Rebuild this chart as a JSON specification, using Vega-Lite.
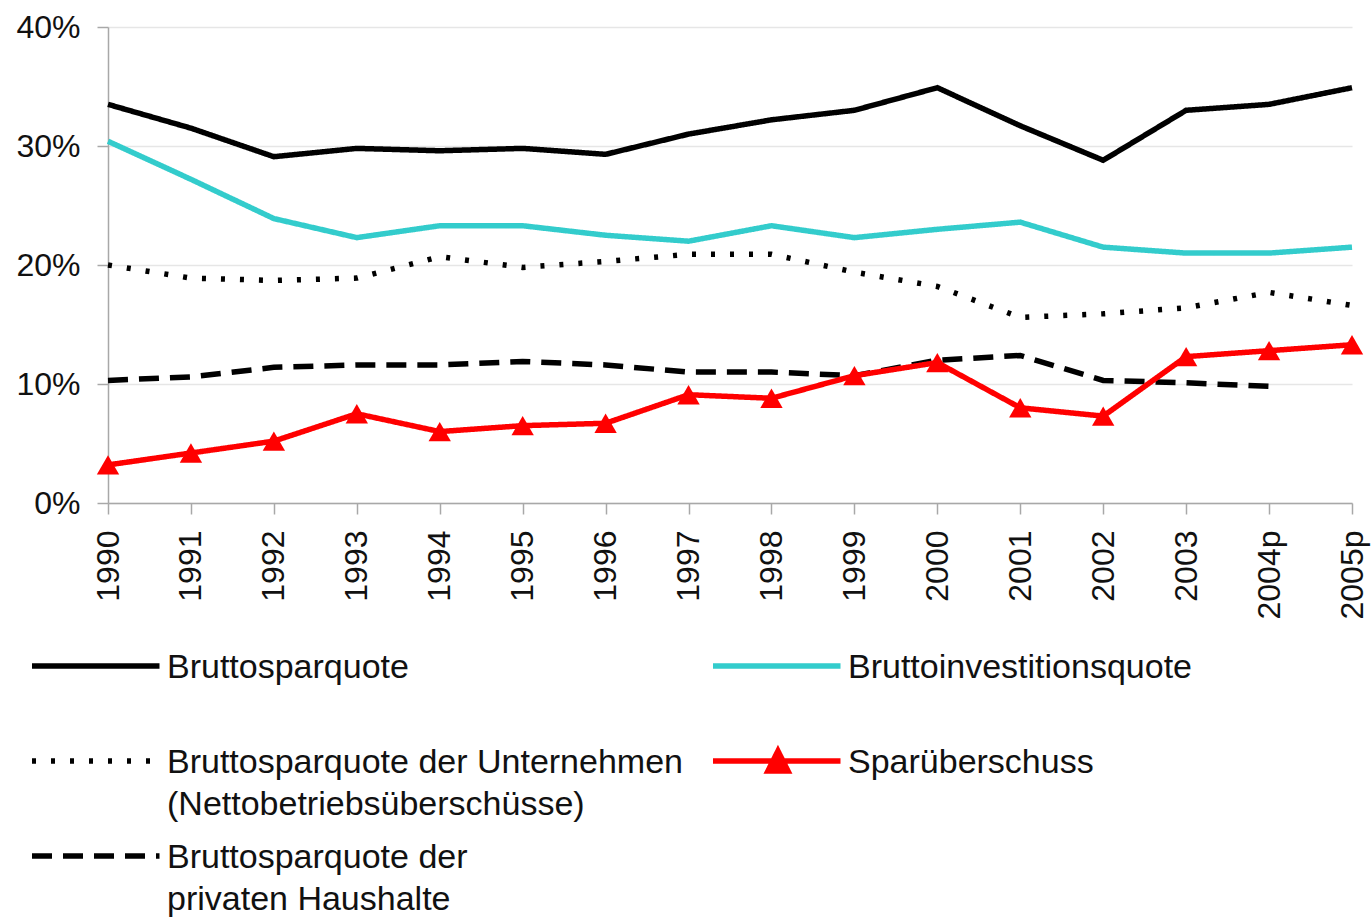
{
  "$schema": "https://vega.github.io/schema/vega-lite/v6.json",
  "width": 1244,
  "height": 476,
  "autosize": {"type": "none"},
  "padding": {"left": 108, "top": 27, "right": 19, "bottom": 415},
  "background": "white",
  "config": {
    "view": {"stroke": null},
    "font": "Liberation Sans",
    "axis": {"labelFont": "Liberation Sans", "labelColor": "#111111", "domainColor": "#a8a8a8", "tickColor": "#a8a8a8", "domainWidth": 1.5, "tickWidth": 1.5}
  },
  "data": {
    "values": [
      {"year": "1990", "series": "Bruttosparquote", "value": 33.5},
      {"year": "1991", "series": "Bruttosparquote", "value": 31.5},
      {"year": "1992", "series": "Bruttosparquote", "value": 29.1},
      {"year": "1993", "series": "Bruttosparquote", "value": 29.8},
      {"year": "1994", "series": "Bruttosparquote", "value": 29.6},
      {"year": "1995", "series": "Bruttosparquote", "value": 29.8},
      {"year": "1996", "series": "Bruttosparquote", "value": 29.3},
      {"year": "1997", "series": "Bruttosparquote", "value": 31.0},
      {"year": "1998", "series": "Bruttosparquote", "value": 32.2},
      {"year": "1999", "series": "Bruttosparquote", "value": 33.0},
      {"year": "2000", "series": "Bruttosparquote", "value": 34.9},
      {"year": "2001", "series": "Bruttosparquote", "value": 31.7},
      {"year": "2002", "series": "Bruttosparquote", "value": 28.8},
      {"year": "2003", "series": "Bruttosparquote", "value": 33.0},
      {"year": "2004p", "series": "Bruttosparquote", "value": 33.5},
      {"year": "2005p", "series": "Bruttosparquote", "value": 34.9},
      {"year": "1990", "series": "Bruttoinvestitionsquote", "value": 30.4},
      {"year": "1991", "series": "Bruttoinvestitionsquote", "value": 27.2},
      {"year": "1992", "series": "Bruttoinvestitionsquote", "value": 23.9},
      {"year": "1993", "series": "Bruttoinvestitionsquote", "value": 22.3},
      {"year": "1994", "series": "Bruttoinvestitionsquote", "value": 23.3},
      {"year": "1995", "series": "Bruttoinvestitionsquote", "value": 23.3},
      {"year": "1996", "series": "Bruttoinvestitionsquote", "value": 22.5},
      {"year": "1997", "series": "Bruttoinvestitionsquote", "value": 22.0},
      {"year": "1998", "series": "Bruttoinvestitionsquote", "value": 23.3},
      {"year": "1999", "series": "Bruttoinvestitionsquote", "value": 22.3},
      {"year": "2000", "series": "Bruttoinvestitionsquote", "value": 23.0},
      {"year": "2001", "series": "Bruttoinvestitionsquote", "value": 23.6},
      {"year": "2002", "series": "Bruttoinvestitionsquote", "value": 21.5},
      {"year": "2003", "series": "Bruttoinvestitionsquote", "value": 21.0},
      {"year": "2004p", "series": "Bruttoinvestitionsquote", "value": 21.0},
      {"year": "2005p", "series": "Bruttoinvestitionsquote", "value": 21.5},
      {"year": "1990", "series": "Bruttosparquote der Unternehmen (Nettobetriebsüberschüsse)", "value": 20.0},
      {"year": "1991", "series": "Bruttosparquote der Unternehmen (Nettobetriebsüberschüsse)", "value": 18.9},
      {"year": "1992", "series": "Bruttosparquote der Unternehmen (Nettobetriebsüberschüsse)", "value": 18.7},
      {"year": "1993", "series": "Bruttosparquote der Unternehmen (Nettobetriebsüberschüsse)", "value": 18.9},
      {"year": "1994", "series": "Bruttosparquote der Unternehmen (Nettobetriebsüberschüsse)", "value": 20.7},
      {"year": "1995", "series": "Bruttosparquote der Unternehmen (Nettobetriebsüberschüsse)", "value": 19.8},
      {"year": "1996", "series": "Bruttosparquote der Unternehmen (Nettobetriebsüberschüsse)", "value": 20.3},
      {"year": "1997", "series": "Bruttosparquote der Unternehmen (Nettobetriebsüberschüsse)", "value": 20.9},
      {"year": "1998", "series": "Bruttosparquote der Unternehmen (Nettobetriebsüberschüsse)", "value": 20.9},
      {"year": "1999", "series": "Bruttosparquote der Unternehmen (Nettobetriebsüberschüsse)", "value": 19.4},
      {"year": "2000", "series": "Bruttosparquote der Unternehmen (Nettobetriebsüberschüsse)", "value": 18.2},
      {"year": "2001", "series": "Bruttosparquote der Unternehmen (Nettobetriebsüberschüsse)", "value": 15.6},
      {"year": "2002", "series": "Bruttosparquote der Unternehmen (Nettobetriebsüberschüsse)", "value": 15.9},
      {"year": "2003", "series": "Bruttosparquote der Unternehmen (Nettobetriebsüberschüsse)", "value": 16.4},
      {"year": "2004p", "series": "Bruttosparquote der Unternehmen (Nettobetriebsüberschüsse)", "value": 17.7},
      {"year": "2005p", "series": "Bruttosparquote der Unternehmen (Nettobetriebsüberschüsse)", "value": 16.6},
      {"year": "1990", "series": "Bruttosparquote der privaten Haushalte", "value": 10.3},
      {"year": "1991", "series": "Bruttosparquote der privaten Haushalte", "value": 10.6},
      {"year": "1992", "series": "Bruttosparquote der privaten Haushalte", "value": 11.4},
      {"year": "1993", "series": "Bruttosparquote der privaten Haushalte", "value": 11.6},
      {"year": "1994", "series": "Bruttosparquote der privaten Haushalte", "value": 11.6},
      {"year": "1995", "series": "Bruttosparquote der privaten Haushalte", "value": 11.9},
      {"year": "1996", "series": "Bruttosparquote der privaten Haushalte", "value": 11.6},
      {"year": "1997", "series": "Bruttosparquote der privaten Haushalte", "value": 11.0},
      {"year": "1998", "series": "Bruttosparquote der privaten Haushalte", "value": 11.0},
      {"year": "1999", "series": "Bruttosparquote der privaten Haushalte", "value": 10.7},
      {"year": "2000", "series": "Bruttosparquote der privaten Haushalte", "value": 12.0},
      {"year": "2001", "series": "Bruttosparquote der privaten Haushalte", "value": 12.4},
      {"year": "2002", "series": "Bruttosparquote der privaten Haushalte", "value": 10.3},
      {"year": "2003", "series": "Bruttosparquote der privaten Haushalte", "value": 10.1},
      {"year": "2004p", "series": "Bruttosparquote der privaten Haushalte", "value": 9.8},
      {"year": "1990", "series": "Sparüberschuss", "value": 3.2},
      {"year": "1991", "series": "Sparüberschuss", "value": 4.2},
      {"year": "1992", "series": "Sparüberschuss", "value": 5.2},
      {"year": "1993", "series": "Sparüberschuss", "value": 7.5},
      {"year": "1994", "series": "Sparüberschuss", "value": 6.0},
      {"year": "1995", "series": "Sparüberschuss", "value": 6.5},
      {"year": "1996", "series": "Sparüberschuss", "value": 6.7},
      {"year": "1997", "series": "Sparüberschuss", "value": 9.1},
      {"year": "1998", "series": "Sparüberschuss", "value": 8.8},
      {"year": "1999", "series": "Sparüberschuss", "value": 10.7},
      {"year": "2000", "series": "Sparüberschuss", "value": 11.8},
      {"year": "2001", "series": "Sparüberschuss", "value": 8.0},
      {"year": "2002", "series": "Sparüberschuss", "value": 7.3},
      {"year": "2003", "series": "Sparüberschuss", "value": 12.3},
      {"year": "2004p", "series": "Sparüberschuss", "value": 12.8},
      {"year": "2005p", "series": "Sparüberschuss", "value": 13.3}
    ]
  },
  "encoding": {
    "x": {
      "field": "year", "type": "ordinal", "sort": null,
      "scale": {"type": "point", "padding": 0},
      "axis": {"title": null, "labelAngle": -90, "labelFontSize": 32, "labelPadding": 16, "tickSize": 11, "grid": false, "labelAlign": "right", "labelBaseline": "middle"}
    },
    "y": {
      "field": "value", "type": "quantitative",
      "scale": {"domain": [0, 40], "nice": false},
      "axis": {"title": null, "values": [0, 10, 20, 30, 40], "labelExpr": "datum.value + '%'", "labelFontSize": 32, "labelPadding": 17, "tickSize": 11, "grid": true, "gridColor": "#e6e6e6", "gridWidth": 1.5}
    }
  },
  "layer": [
    {
      "mark": {"type": "line", "strokeCap": "butt"},
      "encoding": {
        "color": {
          "field": "series", "type": "nominal",
          "scale": {
            "domain": ["Bruttosparquote", "Bruttoinvestitionsquote", "Bruttosparquote der Unternehmen (Nettobetriebsüberschüsse)", "Sparüberschuss", "Bruttosparquote der privaten Haushalte"],
            "range": ["#000000", "#33cccc", "#000000", "#ff0000", "#000000"]
          },
          "legend": {
            "title": null, "orient": "none", "direction": "horizontal", "legendX": -79, "legendY": 621, "columns": 2, "columnPadding": 19, "rowPadding": 12, "gridAlign": "all",
            "padding": 0, "symbolSize": 900, "symbolStrokeWidth": 5, "labelOffset": 102, "labelFontSize": 34, "labelFont": "Liberation Sans", "labelColor": "#111111", "labelLimit": 900, "labelBaseline": "alphabetic",
            "labelExpr": "datum.label == 'Bruttosparquote der Unternehmen (Nettobetriebsüberschüsse)' ? ['Bruttosparquote der Unternehmen', '(Nettobetriebsüberschüsse)'] : datum.label == 'Bruttosparquote der privaten Haushalte' ? ['Bruttosparquote der', 'privaten Haushalte'] : [datum.label, ' ']",
            "encode": {
              "symbols": {"update": {
                "shape": {"signal": "datum.value == 'Sparüberschuss' ? 'M-1,0L7.5,0M2.66,0.67L3.33,-0.67L4.0,0.67Z' : 'M-1,0L7.5,0'"},
                "fill": {"signal": "datum.value == 'Sparüberschuss' ? '#ff0000' : 'transparent'"},
                "strokeWidth": {"signal": "indexof(datum.value, 'der') >= 0 ? 3.5 : 5"}
              }},
              "labels": {"update": {"dy": {"value": 12}, "lineHeight": {"value": 42}}}
            }
          }
        },
        "strokeDash": {
          "field": "series", "type": "nominal",
          "scale": {
            "domain": ["Bruttosparquote", "Bruttoinvestitionsquote", "Bruttosparquote der Unternehmen (Nettobetriebsüberschüsse)", "Sparüberschuss", "Bruttosparquote der privaten Haushalte"],
            "range": [[1, 0], [1, 0], [4, 15], [1, 0], [20, 11]]
          },
          "legend": {
            "title": null, "orient": "none", "direction": "horizontal", "legendX": -79, "legendY": 621, "columns": 2, "columnPadding": 19, "rowPadding": 12, "gridAlign": "all",
            "padding": 0, "symbolSize": 900, "symbolStrokeWidth": 5, "labelOffset": 102, "labelFontSize": 34, "labelFont": "Liberation Sans", "labelColor": "#111111", "labelLimit": 900, "labelBaseline": "alphabetic",
            "labelExpr": "datum.label == 'Bruttosparquote der Unternehmen (Nettobetriebsüberschüsse)' ? ['Bruttosparquote der Unternehmen', '(Nettobetriebsüberschüsse)'] : datum.label == 'Bruttosparquote der privaten Haushalte' ? ['Bruttosparquote der', 'privaten Haushalte'] : [datum.label, ' ']",
            "encode": {
              "symbols": {"update": {
                "shape": {"signal": "datum.value == 'Sparüberschuss' ? 'M-1,0L7.5,0M2.66,0.67L3.33,-0.67L4.0,0.67Z' : 'M-1,0L7.5,0'"},
                "fill": {"signal": "datum.value == 'Sparüberschuss' ? '#ff0000' : 'transparent'"},
                "strokeWidth": {"signal": "indexof(datum.value, 'der') >= 0 ? 3.5 : 5"}
              }},
              "labels": {"update": {"dy": {"value": 12}, "lineHeight": {"value": 42}}}
            }
          }
        },
        "strokeWidth": {
          "field": "series", "type": "nominal",
          "scale": {
            "domain": ["Bruttosparquote", "Bruttoinvestitionsquote", "Bruttosparquote der Unternehmen (Nettobetriebsüberschüsse)", "Sparüberschuss", "Bruttosparquote der privaten Haushalte"],
            "range": [5.5, 5.5, 3.5, 5, 3.5]
          },
          "legend": null
        },
        "order": {"field": "year"}
      }
    },
    {
      "transform": [{"filter": "datum.series == 'Sparüberschuss'"}],
      "mark": {"type": "point", "shape": "triangle-up", "filled": true, "size": 500, "opacity": 1, "color": "#ff0000"}
    }
  ]
}
